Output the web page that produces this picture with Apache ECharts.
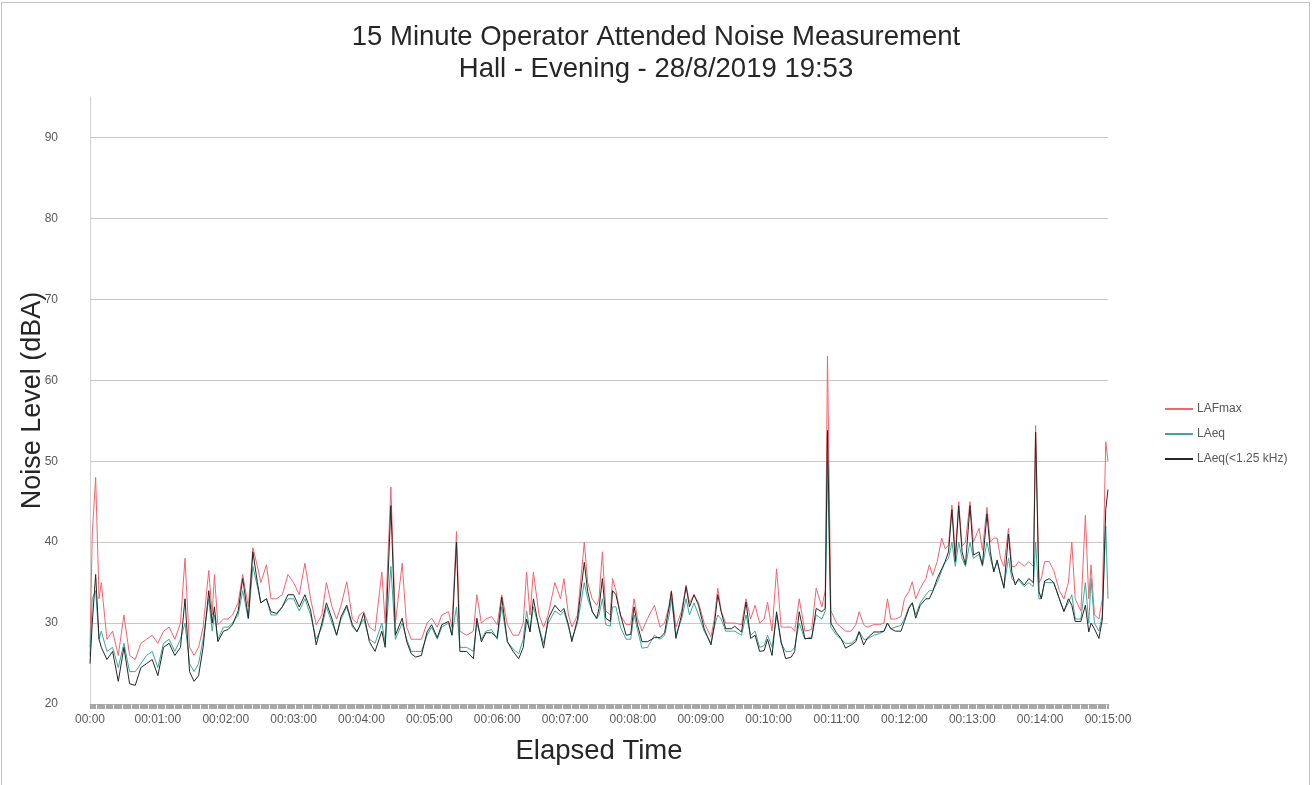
<!DOCTYPE html>
<html>
<head>
<meta charset="utf-8">
<script src="https://cdn.jsdelivr.net/npm/echarts@6/dist/echarts.min.js"></script>
<style>
  html, body { margin: 0; padding: 0; background: #ffffff; }
  #chart { position: absolute; left: 0; top: 0; width: 1312px; height: 785px; }
  #frame { position: absolute; left: 1px; top: 2px; width: 1307px; height: 800px; border: 1px solid #c4c4c4; pointer-events: none; }
</style>
</head>
<body>
<div id="chart"></div>
<div id="frame"></div>
<script>
// Elapsed time of each reading (seconds from start)
const times = [
  0,2,5,8,10,15,20,25,30,35,
  40,45,50,55,60,65,70,75,80,84,
  88,92,96,100,105,108,110,113,118,122,
  126,131,135,140,144,148,151,156,160,165,
  170,175,180,185,190,195,200,205,209,214,
  218,222,
  227,232,236,238,242,247,252,258,261,266,
  270,276,280,284,288,293,298,302,307,311,
  317,320,324,327,333,339,342,346,350,355,
  360,364,369,374,379,383,386,389,392,397,
  401,405,411,416,419,423,426,431,437,440,
  444,448,
  450,453,456,460,462,465,469,474,478,481,
  484,488,493,499,504,508,512,514,518,523,
  527,530,534,538,543,549,552,555,558,562,
  567,570,576,580,584,588,592,596,599,603,
  607,611,615,620,623,627,632,638,642,647,
  650,652,655,660,664,668,673,
  677,680,684,687,693,698,702,705,708,712,
  717,720,724,727,730,734,739,742,745,749,
  753,756,759,762,765,768,771,774,778,781,
  786,789,793,796,799,802,805,808,812,815,
  818,821,826,830,834,836,839,841,844,848,
  852,857,861,865,868,871,876,880,883,885,
  888,892,895,898,900
];

// LAFmax (dBA)
const lafmax = [
  27,41,48,33,35,28,29,26,31,26,
  25.5,27.5,28,28.5,27.5,29,29.5,28,30,38,
  27,26,27,29.5,36.5,31,36,29.8,30.5,30.5,
  31,32.5,36,32,39.3,37,35,37.2,33,33,
  33.5,36,35,33.5,37.4,33,29.8,31,35,32,
  30.5,32.2,
  35.1,30.5,30,31,31.4,29.5,29,36.3,30,46.8,
  30,37.4,29.5,28,28,28,30,30.6,29.5,31,
  31.4,29.5,41.3,29,28.5,29,33.5,30,30.5,30.8,
  29.8,33.5,29.8,28.5,28.5,30,36.3,31,36.3,31,
  29.5,31,35,33,35.5,31,29.5,31,40,35,
  33,32.2,
  33,38.8,31.5,31,35.5,34,31,29.8,29.8,33,
  30.6,29,30.6,32.2,29.5,30,32.2,34,29.5,31.5,
  34.7,32.5,33.5,32.5,30,28.3,30.5,34.3,31.5,30,
  30,30,29.8,33,30.5,32.2,30,30.5,32.6,29,
  36.7,29.5,29.5,29.5,29,33,29,29.2,34.3,32,
  34,63,31.5,30,29.5,29,29,
  29.8,31.4,29.8,29.5,29.8,29.8,30,33,30.5,30.5,
  30.8,33,33.9,35.1,33,34.3,35.5,37.2,35.9,37.6,
  40.5,39.2,39.6,44.6,38.5,45,39.5,40,45,40,
  41.7,39,44.3,40,40.5,40.5,38,37,41.7,37,
  37,37.6,37,37.6,37,54.4,35,35.5,37.6,37.6,
  36.5,34,33,35,40,33,31.5,43.3,33,37.2,
  31,30.5,33,52.4,50
];

// LAeq (dBA)
const laeq = [
  26,33,34,28,29,26.5,27,24.5,27.5,24,
  24,25,26,26.5,24.5,27.5,28,26.5,28,30,
  25,24,25,28,33,29,31,28,29.5,29.5,
  30,31,34,30.5,37,34.5,32.5,33,31,31,
  32,33,33,31.5,33,31,28,29.5,32,30,
  28.5,30.5,
  32,29.5,29,29.5,30.5,28,27.5,30,27.5,37,
  28,30,28,26.5,26.5,26.5,28.5,29.5,28,29.5,
  30,28.5,32,27,27,26.5,30,28,29,29.2,
  28,32,27.7,26.8,26.2,28,31.5,29,32,29.5,
  27.5,30,31.5,31,31.5,29.5,28,30,35,33,
  31.5,30.5,
  31,33,29.8,29.6,32,32,29.5,28,28,31,
  29.2,26.9,27,28.5,28,28.5,31,33,28.5,30.5,
  33,31,32.5,31,29,27.5,29.5,31,30.5,29,
  29,29,28.5,31,28.5,29,27,27.2,28.5,27,
  31,27.5,26.5,26.5,27,30,28,28.3,31,30.5,
  31.5,50,29.5,28.5,28,27.5,27.5,
  28,29,28,28,28.5,28.7,29,30,29.3,29.5,
  29.7,30.5,32,32.5,31,32.5,33.5,34,34,35,
  36.5,37.5,38,40,37,40,38,37,40,38,
  38.5,37,40,38,36.5,37.5,36,34.5,38,35.5,
  35,35.3,34.5,35,34.5,40,33,33,35,35,
  35,33,31.5,32.5,33.5,30.5,30.5,35,30,35.5,
  30,29,31,42,33
];

// LAeq(<1.25 kHz) (dBA)
const laeqLow = [
  25,30,36,28,27,25.5,26.5,22.8,27,22.5,
  22.3,24.5,25,25.5,23.5,27,27.5,26,27,33,
  24,22.8,23.5,27,34,30,32,27.7,29,29.2,
  29.8,31.5,35.5,30.6,38.8,35,32.5,33,31.4,31.2,
  32,33.5,33.5,32,33.5,31.6,27.3,30,32.5,30.5,
  28.5,30.8,
  32.2,29.8,28.9,29.5,31.2,27.7,26.5,29,27,44.5,
  28.5,30.6,27.7,26.2,25.8,26,28.9,29.8,28.2,29.8,
  30.2,28.5,40,26.5,26.5,25.6,30.6,27.7,28.8,28.8,
  28.2,33.2,27.7,26.5,25.6,27,30.5,28.9,33,29.3,
  26.9,30.5,32.2,31.4,31.8,29.8,27.7,30.5,37.5,33.9,
  31.4,30.6,
  31.8,35.5,30.6,30.2,34,33.5,31,28.5,28.6,32,
  29.8,27.7,27.7,28.2,28.2,28.8,32,33.9,28.1,31,
  34.5,32,33.5,32.2,29.3,27.3,29.8,33.5,31.4,29.3,
  29.3,29.6,28.9,32.6,28.1,28.5,26.5,26.6,28,26,
  31.4,27.7,25.6,25.8,26.5,31.4,28.1,28.1,31.8,31.4,
  31.8,53.8,30,28.8,28.1,26.9,27.3,
  27.7,28.9,27.3,28.1,28.9,28.9,29,30,29.3,29,
  29,30.2,31.8,32.5,30.6,32.2,33,33,33.9,35.5,
  36.7,37.6,38.8,44,37.6,44.5,38.8,37.2,44.5,38.4,
  38.8,37.2,43.5,38.8,36.3,37.8,35.9,34.3,41,36.3,
  34.7,35.5,34.7,35.5,35,53.6,33.9,33,35.2,35.5,
  35,33,31.4,33,32.2,30.2,30.2,32.2,28.9,30,
  29.3,28.1,30.5,44,46.5
];

const xTickLabels = [
  '00:00','00:01:00','00:02:00','00:03:00','00:04:00','00:05:00','00:06:00','00:07:00',
  '00:08:00','00:09:00','00:10:00','00:11:00','00:12:00','00:13:00','00:14:00','00:15:00'
];
const seriesNames = ['LAFmax', 'LAeq', 'LAeq(<1.25 kHz)'];
const seriesValues = [lafmax, laeq, laeqLow];
const seriesColors = ['#f2646e', '#3aa89a', '#262626'];

const chart = echarts.init(document.getElementById('chart'), null, { renderer: 'canvas' });
const font = '"Liberation Sans", Arial, sans-serif';

chart.setOption({
  animation: false,
  backgroundColor: '#ffffff',
  title: {
    text: '15 Minute Operator Attended Noise Measurement\nHall - Evening - 28/8/2019 19:53',
    left: 'center',
    top: 16,
    textStyle: { fontFamily: font, fontSize: 27.5, fontWeight: 'normal', color: '#262626', lineHeight: 32 }
  },
  legend: {
    orient: 'vertical',
    left: 1160,
    top: 398,
    itemGap: 13,
    itemWidth: 28,
    itemHeight: 2,
    icon: 'rect',
    textStyle: { fontFamily: font, fontSize: 12, color: '#595959', padding: [0, 0, 0, -1] },
    data: seriesNames
  },
  grid: { left: 90, right: 204, top: 97, bottom: 81, containLabel: false, outerBoundsMode: 'none' },
  xAxis: {
    type: 'value',
    min: 0,
    max: 900,
    interval: 60,
    name: 'Elapsed Time',
    nameLocation: 'middle',
    nameGap: 33,
    nameMoveOverlap: false,
    nameTextStyle: { fontFamily: font, fontSize: 27.5, color: '#262626' },
    axisLine: { show: true, lineStyle: { color: '#bdbdbd', width: 1 } },
    axisTick: { show: true, length: 5, lineStyle: { color: '#a6a6a6' } },
    minorTick: { show: true, splitNumber: 60, length: 5, lineStyle: { color: '#a8a8a8' } },
    axisLabel: {
      margin: 10,
      fontFamily: font, fontSize: 12, color: '#595959',
      formatter: v => xTickLabels[Math.round(v / 60)]
    },
    splitLine: { show: false }
  },
  yAxis: {
    type: 'value',
    min: 20,
    max: 95,
    interval: 10,
    name: 'Noise Level (dBA)',
    nameLocation: 'middle',
    nameGap: 44,
    nameMoveOverlap: false,
    nameTextStyle: { fontFamily: font, fontSize: 27, color: '#262626' },
    axisLine: { show: true, lineStyle: { color: '#d0d0d0' } },
    axisTick: { show: false },
    axisLabel: { margin: 32, fontFamily: font, fontSize: 12, color: '#595959', showMaxLabel: false },
    splitLine: { show: true, showMinLine: false, showMaxLine: false, lineStyle: { color: '#c8c8c8', width: 1 } }
  },
  series: seriesNames.map((name, k) => ({
    name: name,
    type: 'line',
    showSymbol: false,
    symbol: 'none',
    color: seriesColors[k],
    lineStyle: { width: 1, color: seriesColors[k] },
    data: times.map((t, i) => [t, seriesValues[k][i]])
  }))
});
</script>
</body>
</html>
